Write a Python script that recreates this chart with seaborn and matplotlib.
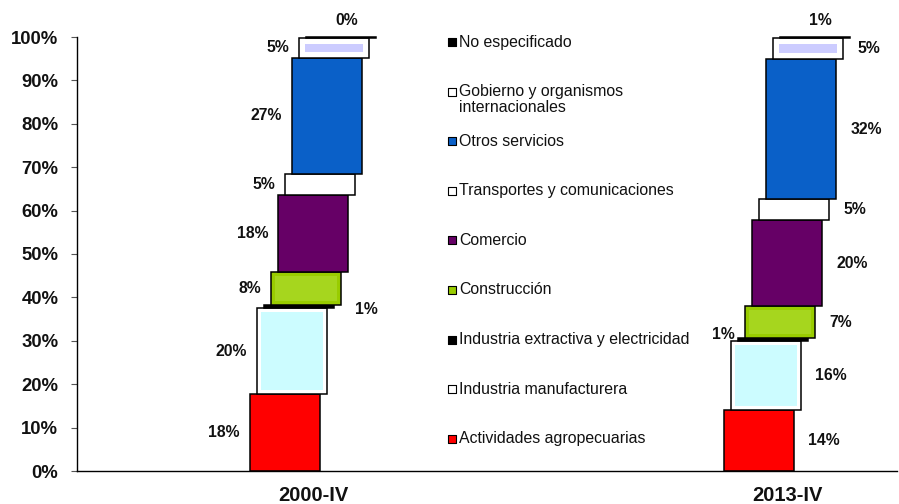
import numpy as np
import matplotlib
matplotlib.use("Agg")
import matplotlib.pyplot as plt
import seaborn as sns

# --- data (share of employment, %) ---
periods = ["2000-IV", "2013-IV"]
sectors = ["Actividades agropecuarias",
           "Industria manufacturera",
           "Industria extractiva y electricidad",
           "Construcción",
           "Comercio",
           "Transportes y comunicaciones",
           "Otros servicios",
           "Gobierno y organismos\ninternacionales",
           "No especificado"]
share_2000 = [17.7, 19.8, 0.7, 7.6, 17.7, 5.0, 26.7, 4.6, 0.2]
share_2013 = [14.0, 15.9, 0.7, 7.4, 19.8, 4.8, 32.3, 4.8, 0.3]
labels_2000 = ["18%", "20%", "1%", "8%", "18%", "5%", "27%", "5%", "0%"]
labels_2013 = ["14%", "16%", "1%", "7%", "20%", "5%", "32%", "5%", "1%"]

# outer face colour of each block, and an inner fill for the "glow" blocks
face_colors = ["#ff0000", "#ffffff", "#000000", "#99cc00", "#660066",
               "#ffffff", "#0a60c8", "#ffffff", "#000000"]
inner_colors = [None, "#ccfcff", None, "#a6d61e", None,
                None, None, "#ccccff", None]

sns.set_style("white")
plt.rcParams["font.family"] = ["Liberation Sans", "DejaVu Sans"]
plt.rcParams["text.color"] = "#111111"
plt.rcParams["xtick.labelcolor"] = "#111111"
plt.rcParams["ytick.labelcolor"] = "#111111"

fig = plt.figure(figsize=(8.99, 5.04), dpi=100)
ax = fig.add_axes([77 / 899, 33 / 504, 820 / 899, 434 / 504])

width = 0.148   # bar width (category units)
step = 0.0148   # horizontal shift between stacked blocks
gap = [0.021, 0.030]
lab_fs = 11.3

for j, (vals, labs) in enumerate([(share_2000, labels_2000),
                                  (share_2013, labels_2013)]):
    vals = np.array(vals)
    bottoms = np.concatenate([[0], np.cumsum(vals)[:-1]])
    xs = j + (np.arange(len(vals)) - 4) * step
    ax.bar(xs, vals, width=width, bottom=bottoms, color=face_colors,
           edgecolor="black", linewidth=1.1, zorder=2, clip_on=False)
    # lighter inner fill
    for i, c in enumerate(inner_colors):
        if c is None:
            continue
        mx, my = (0.009, 0.9) if i != 7 else (0.013, 1.4)
        ax.bar(xs[i], vals[i] - 2 * my, width=width - 2 * mx,
               bottom=bottoms[i] + my, color=c, linewidth=0, zorder=3)

    side = -1 if j == 0 else 1
    for i, lab in enumerate(labs):
        if i == len(labs) - 1:
            ax.text(xs[i] + 0.012, 103.8, lab, ha="center", va="center",
                    fontsize=lab_fs, fontweight="bold")
        elif i == 2:
            if j == 0:
                ax.text(xs[i] + width / 2 + 0.044, bottoms[i] - 0.2, lab,
                        ha="left", va="center", fontsize=lab_fs,
                        fontweight="bold")
            else:
                ax.text(xs[i] - width / 2 - 0.006, bottoms[i] + 1.6, lab,
                        ha="right", va="center", fontsize=lab_fs,
                        fontweight="bold")
        else:
            x = xs[i] + side * (width / 2 + gap[j])
            ax.text(x, bottoms[i] + vals[i] / 2, lab,
                    ha="right" if side < 0 else "left", va="center",
                    fontsize=lab_fs, fontweight="bold")

# axes styling
ax.set_xlim(-0.498, 1.232)
ax.set_ylim(0, 100)
ax.set_yticks(np.arange(0, 101, 10))
ax.set_yticklabels([f"{v}%" for v in range(0, 101, 10)],
                   fontsize=13.3, fontweight="bold")
ax.set_xticks([0, 1])
ax.set_xticklabels(periods, fontsize=14.5, fontweight="bold")
ax.tick_params(axis="y", length=4.5, width=0.8, direction="out", pad=9,
               left=True, color="#555555")
ax.tick_params(axis="x", length=0, pad=11)
sns.despine(ax=ax)
for sp in ["left", "bottom"]:
    ax.spines[sp].set_color("black")
    ax.spines[sp].set_linewidth(1.0)

# manual legend (top entry first)
row0, row_step = 42, 49.6
for k, i in enumerate(range(len(sectors) - 1, -1, -1)):
    ypix = row0 + k * row_step
    yf = (471 - ypix) / 434
    ax.scatter([(451.5 - 77) / 820], [yf], s=40, marker="s",
               color=face_colors[i], edgecolor="black", linewidth=0.8,
               transform=ax.transAxes, clip_on=False, zorder=5)
    ax.text((459 - 77) / 820, (471 - ypix + 7.5) / 434, sectors[i],
            transform=ax.transAxes, ha="left", va="top", fontsize=11.4,
            linespacing=1.05)

fig.savefig("out.png", dpi=100)
